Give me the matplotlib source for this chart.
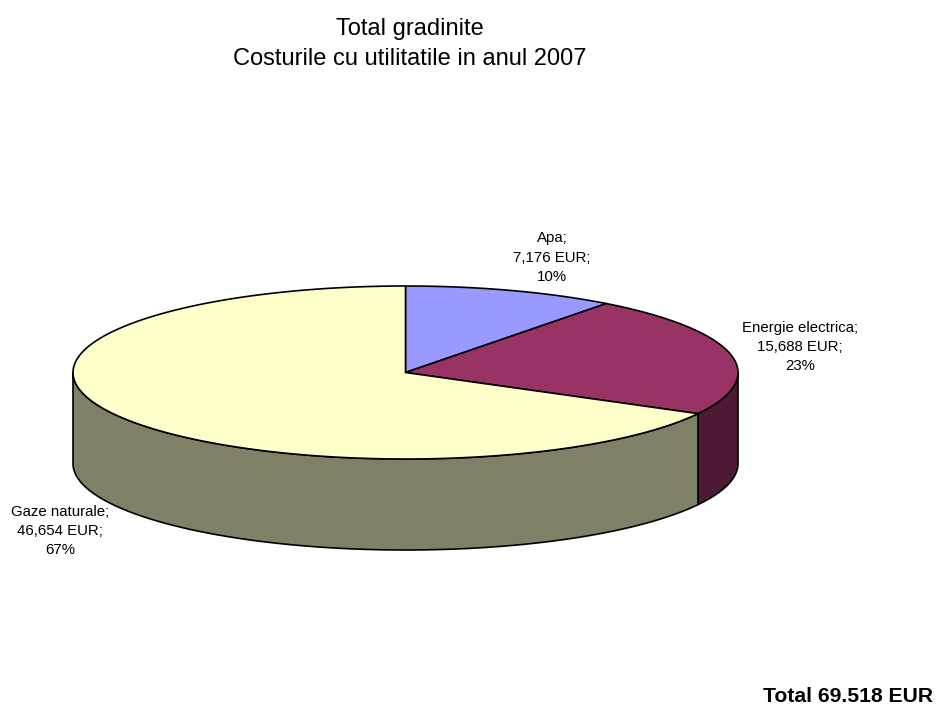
import matplotlib
matplotlib.use("Agg")
import matplotlib.pyplot as plt
import numpy as np

categories = ["Apa", "Energie electrica", "Gaze naturale"]
values = [7176, 15688, 46654]
amounts = ["7,176 EUR", "15,688 EUR", "46,654 EUR"]
percents = ["10%", "23%", "67%"]
top_colors = ["#9999FF", "#993366", "#FFFFCC"]
side_colors = ["#4D4D80", "#4D1933", "#808066"]

title_lines = ["Total gradinite", "Costurile cu utilitatile in anul 2007"]
total_label = "Total 69.518 EUR"

plt.rcParams["font.family"] = ["Liberation Sans", "DejaVu Sans"]

# everything is laid out in pixels of the 936x706 picture
fig = plt.figure(figsize=(9.36, 7.06), dpi=100)
ax = fig.add_axes([0, 0, 1, 1])
ax.set_xlim(0, 936)
ax.set_ylim(706, 0)
ax.axis("off")

cx, cy = 405.5, 372.5
rx, ry = 332.5, 86.5
depth = 91


def rim(a0, a1):
    # angles in degrees, clockwise from the top of the ellipse
    t = np.radians(np.linspace(a0, a1, 200))
    return cx + rx * np.sin(t), cy - ry * np.cos(t)


edges = np.concatenate([[0], np.cumsum(values)]) / sum(values) * 360

# side wall, only the front half of the rim (90..270 deg) shows
for i in range(len(values)):
    a0, a1 = max(edges[i], 90), min(edges[i + 1], 270)
    if a1 <= a0:
        continue
    x, y = rim(a0, a1)
    ax.fill(np.r_[x, x[::-1]], np.r_[y, y[::-1] + depth],
            facecolor=side_colors[i], edgecolor="black", lw=1.2, zorder=2)

# top face
for i in range(len(values)):
    x, y = rim(edges[i], edges[i + 1])
    ax.fill(np.r_[cx, x], np.r_[cy, y],
            facecolor=top_colors[i], edgecolor="black", lw=1.2, zorder=3)

label_pos = [(552, 257.5), (800, 347), (60, 531)]
for name, amount, pct, (lx, ly) in zip(categories, amounts, percents, label_pos):
    ax.text(lx, ly, f"{name};\n{amount};\n{pct}", ha="center", va="center",
            fontsize=10.8, linespacing=1.47, zorder=4)

ax.text(410, 44, "\n".join(title_lines), ha="center", va="center",
        fontsize=17, linespacing=1.43)
ax.text(933, 696.5, total_label, ha="right", va="center",
        fontsize=15.2, fontweight="bold")

fig.savefig("out.png", dpi=100)
